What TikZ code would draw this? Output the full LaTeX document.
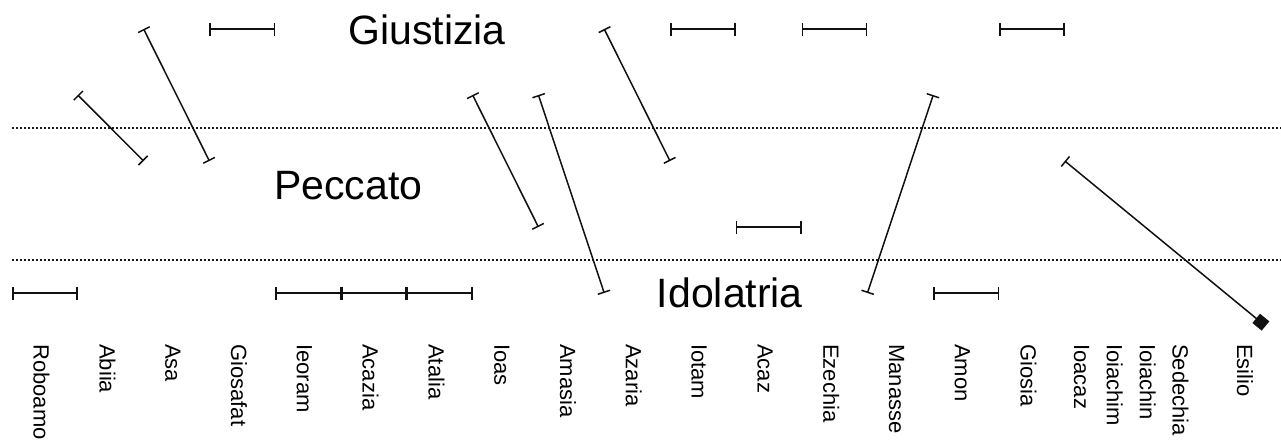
\documentclass[tikz,border=0pt]{standalone}
\usepackage{fontspec}
\setmainfont{Liberation Sans}
\usetikzlibrary{arrows.meta}
\definecolor{chartBlack}{HTML}{111111}
\definecolor{bandGrey}{HTML}{1A1A1A}

\begin{document}
\begin{tikzpicture}[x=32.9pt, y=33pt,
    reign/.style={{Bar[width=6.5pt]}-{Bar[width=6.5pt]}, line width=0.75pt, chartBlack},
    band/.style={bandGrey, line width=0.6pt, dash pattern=on 1pt off 1pt},
    level/.style={font=\fontsize{20.5}{24}\selectfont, anchor=base, inner sep=0pt},
    king/.style={font=\fontsize{11}{13}\selectfont, rotate=-90, anchor=west, inner sep=0pt,
      text height=7.9pt, text depth=0pt}]
    \useasboundingbox (-6pt,-74pt) rectangle (634.5pt,146.5pt);

    % bands
    \draw[band] (0,2.5) -- (19.4,2.5);
    \draw[band] (0,0.5) -- (19.4,0.5);

    \node[level] (giustizia) at (6.31,3.76) {Giustizia};
    \node[level] (peccato) at (5.11,1.41) {Peccato};
    \node[level] (idolatria) at (10.91,-0.227) {Idolatria};

    % reigns
    \draw[reign] (0,0) -- (1,0);
    \draw[reign] (1,3) -- (2,2);
    \draw[reign] (2,4) -- (3,2);
    \draw[reign] (3,4) -- (4,4);
    \draw[reign] (4,0) -- (5,0);
    \draw[reign] (5,0) -- (6,0);
    \draw[reign] (6,0) -- (7,0);
    \draw[reign] (7,3) -- (8,1);
    \draw[reign] (8,3) -- (9,0);
    \draw[reign] (9,4) -- (10,2);
    \draw[reign] (10,4) -- (11,4);
    \draw[reign] (11,1) -- (12,1);
    \draw[reign] (12,4) -- (13,4);
    \draw[reign] (14,3) -- (13,0);
    \draw[reign] (14,0) -- (15,0);
    \draw[reign] (15,4) -- (16,4);
    \coordinate (esilioEnd) at (19.05,-0.5);
    \draw[reign, {Bar[width=6.5pt]}-{Square[length=6pt, width=6pt]}] (16,2) -- (esilioEnd);

    % kings
    \node[king] (roboamo) at (0.45,-0.77) {Roboamo};
    \node[king] (abiia) at (1.45,-0.77) {Abiia};
    \node[king] (asa) at (2.45,-0.77) {Asa};
    \node[king] (giosafat) at (3.45,-0.77) {Giosafat};
    \node[king] (ieoram) at (4.45,-0.77) {Ieoram};
    \node[king] (acazia) at (5.45,-0.77) {Acazia};
    \node[king] (atalia) at (6.45,-0.77) {Atalia};
    \node[king] (ioas) at (7.45,-0.77) {Ioas};
    \node[king] (amasia) at (8.45,-0.77) {Amasia};
    \node[king] (azaria) at (9.45,-0.77) {Azaria};
    \node[king] (iotam) at (10.45,-0.77) {Iotam};
    \node[king] (acaz) at (11.45,-0.77) {Acaz};
    \node[king] (ezechia) at (12.45,-0.77) {Ezechia};
    \node[king] (manasse) at (13.45,-0.77) {Manasse};
    \node[king] (amon) at (14.45,-0.77) {Amon};
    \node[king] (giosia) at (15.45,-0.77) {Giosia};
    \node[king] (ioacaz) at (16.26,-0.77) {Ioacaz};
    \node[king] (ioiachim) at (16.76,-0.77) {Ioiachim};
    \node[king] (ioiachin) at (17.26,-0.77) {Ioiachin};
    \node[king] (sedechia) at (17.76,-0.77) {Sedechia};
    \node[king] (esilio) at (18.74,-0.77) {Esilio};
\end{tikzpicture}
\end{document}
